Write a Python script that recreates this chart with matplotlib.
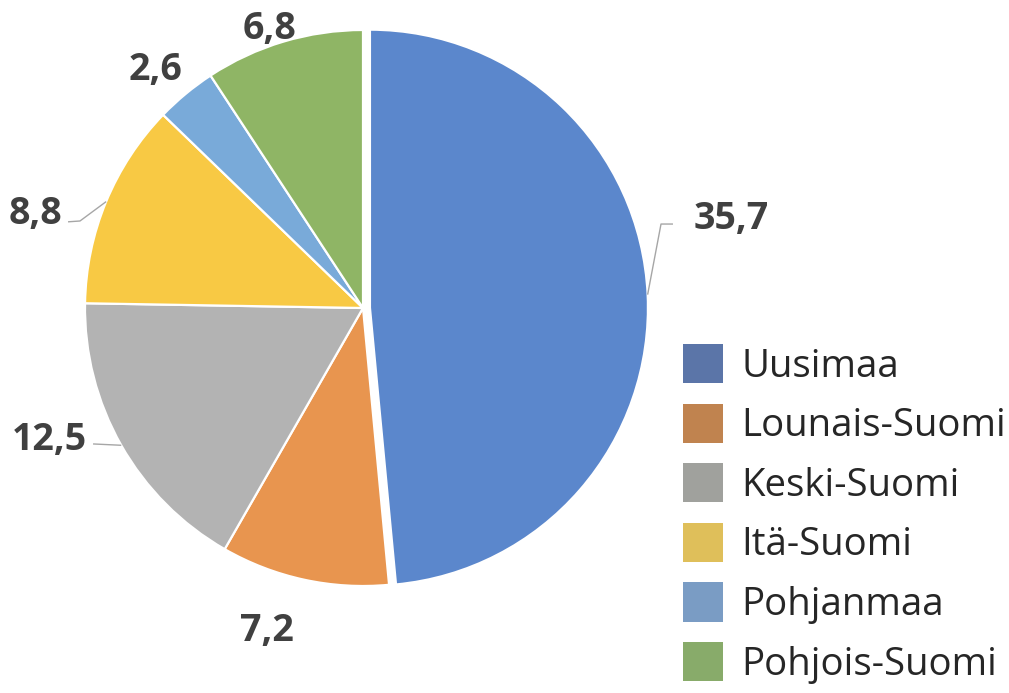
import numpy as np
import matplotlib.pyplot as plt
from matplotlib.patches import Patch

regions = ["Uusimaa", "Lounais-Suomi", "Keski-Suomi", "Itä-Suomi", "Pohjanmaa", "Pohjois-Suomi"]
values = [35.7, 7.2, 12.5, 8.8, 2.6, 6.8]
value_labels = ["35,7", "7,2", "12,5", "8,8", "2,6", "6,8"]

pie_colors = ["#5b87cc", "#e8954f", "#b3b3b3", "#f8c944", "#79aad9", "#8fb565"]
legend_colors = ["#5b75a8", "#c0834f", "#a0a19d", "#dfbf5a", "#7a9cc4", "#88ab6a"]

plt.rcParams["font.family"] = ["Open Sans", "DejaVu Sans"]

fig = plt.figure(figsize=(10.09, 6.93), dpi=100)
ax = fig.add_axes([0, 0, 1, 1])

# 278 px per data unit, pie centre at pixel (363, 308)
scale = 278.0
cx, cy = 363.0, 308.0
explode = [0.025, 0, 0, 0, 0, 0]

wedges, _ = ax.pie(values, colors=pie_colors, startangle=90, counterclock=False,
                   explode=explode, radius=1.0,
                   wedgeprops=dict(edgecolor="white", linewidth=1.6))

ax.set_xlim(-cx / scale, (1009 - cx) / scale)
ax.set_ylim(-(693 - cy) / scale, cy / scale)
ax.set_aspect("equal")
ax.axis("off")

# label positions (text centres) in pie units
label_pos = [(1.324, 0.338), (-0.345, -1.144), (-1.129, -0.457),
             (-1.18, 0.356), (-0.748, 0.874), (-0.335, 1.018)]
# leader lines: elbow + end points, None where Excel drew none
leaders = {0: [(1.072, 0.302), (1.115, 0.302)],
           2: [(-0.971, -0.489)],
           3: [(-1.018, 0.313), (-1.061, 0.31)]}

for i, w in enumerate(wedges):
    mid = np.deg2rad((w.theta1 + w.theta2) / 2)
    ox, oy = w.center
    edge = (ox + np.cos(mid), oy + np.sin(mid))
    if i in leaders:
        pts = [edge] + leaders[i]
        ax.plot([p[0] for p in pts], [p[1] for p in pts], color="#a6a6a6", lw=1.0,
                solid_capstyle="butt")
    x, y = label_pos[i]
    ax.text(x, y, value_labels[i], ha="center", va="center_baseline",
            fontsize=27, fontweight="bold", color="#404040")

handles = [Patch(facecolor=c, edgecolor="none") for c in legend_colors]
leg = ax.legend(handles, regions, loc="upper left",
                bbox_to_anchor=(683 / 1009, 1 - 344 / 693), bbox_transform=fig.transFigure,
                frameon=False, fontsize=27.6, handlelength=1.05, handleheight=1.2,
                handletextpad=0.47, labelspacing=0.47, borderpad=0, borderaxespad=0)
for t in leg.get_texts():
    t.set_color("#262626")

fig.savefig("out.png", dpi=100)
